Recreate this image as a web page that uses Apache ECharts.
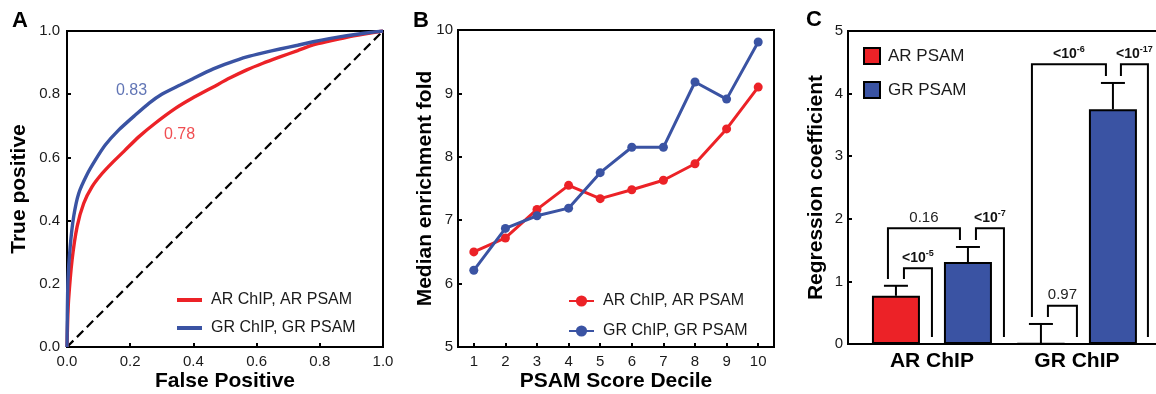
<!DOCTYPE html>
<html><head><meta charset="utf-8">
<script src="https://cdn.jsdelivr.net/npm/echarts@6/dist/echarts.min.js"></script>
<style>html,body{margin:0;padding:0;background:#fff}#c{width:1156px;height:394px}</style>
</head><body><div id="c"></div>
<script>
// ---------- Panel A: ROC curves ----------
const rocArFpr = [0, 0.002, 0.005, 0.016, 0.032, 0.053, 0.079, 0.111, 0.142, 0.184, 0.227, 0.279, 0.343, 0.396, 0.463, 0.515, 0.569, 0.620, 0.674, 0.730, 0.779, 0.830, 0.885, 0.940, 1.0];
const rocArTpr = [0, 0.080, 0.149, 0.275, 0.381, 0.455, 0.507, 0.549, 0.582, 0.623, 0.665, 0.708, 0.755, 0.787, 0.823, 0.851, 0.877, 0.898, 0.918, 0.938, 0.956, 0.968, 0.980, 0.990, 1.0];
const rocGrFpr = [0, 0.001, 0.003, 0.010, 0.021, 0.037, 0.063, 0.090, 0.121, 0.164, 0.216, 0.260, 0.300, 0.358, 0.400, 0.463, 0.515, 0.569, 0.620, 0.674, 0.730, 0.779, 0.830, 0.885, 0.940, 1.0];
const rocGrTpr = [0, 0.100, 0.210, 0.317, 0.412, 0.486, 0.545, 0.592, 0.639, 0.687, 0.734, 0.772, 0.800, 0.829, 0.850, 0.880, 0.900, 0.918, 0.931, 0.943, 0.955, 0.966, 0.976, 0.985, 0.993, 1.0];
const aucAr = '0.78';
const aucGr = '0.83';
const rocSeriesNames = ['AR ChIP, AR PSAM', 'GR ChIP, GR PSAM'];

// ---------- Panel B: median enrichment by decile ----------
const deciles = ['1', '2', '3', '4', '5', '6', '7', '8', '9', '10'];
const enrichAr = [6.50, 6.72, 7.17, 7.55, 7.34, 7.48, 7.63, 7.89, 8.44, 9.10];
const enrichGr = [6.21, 6.87, 7.07, 7.19, 7.75, 8.15, 8.15, 9.18, 8.91, 9.81];

// ---------- Panel C: regression coefficients ----------
const chipCategories = ['AR ChIP', 'GR ChIP'];
const psamNames = ['AR PSAM', 'GR PSAM'];
const coefArPsam = [0.77, 0.01];
const coefGrPsam = [1.31, 3.75];
const errTopArPsam = [0.93, 0.32];
const errTopGrPsam = [1.55, 4.17];
// significance brackets: label (base + optional exponent), group, top level
const sigLabels = ['<10', '0.16', '<10', '0.97', '<10', '<10'];
const sigExps   = ['-5', '', '-7', '', '-6', '-17'];
const sigGroups = [0, 0, 0, 1, 1, 1];
const sigTops   = [1.21, 1.85, 1.85, 0.61, 4.47, 4.47];

// ---------- styling / layout ----------
const RED = '#ec2227', BLUE = '#3a53a3';
const FONT = "'Liberation Sans', Arial, Helvetica, sans-serif";
const BAR_W = 48, BAR_GAP = 24;
const HALF = (BAR_W + BAR_GAP) / 2;
// bracket legs: x = group centre + k*HALF + d (k=±1 -> over a bar)
const legSpec = [
  [[-1, 8], [0, 0]],
  [[-1, -8], [1, -8]],
  [[1, 8], [2, 0]],
  [[-1, 7], [0, 0]],
  [[-1, -9], [1, -7]],
  [[1, 8], [2, -1]]
];

const axisLine = { show: true, onZero: false, lineStyle: { color: '#000', width: 2 } };
const axisTick = { show: true, inside: true, length: 4, lineStyle: { color: '#000', width: 2 } };
const tickLabel = (m, extra) => Object.assign({ fontSize: 15, color: '#1a1a1a', fontFamily: FONT, margin: m }, extra || {});
const axisName = { fontSize: 21, fontWeight: 'bold', color: '#000', fontFamily: FONT };
const letterStyle = { fontSize: 22, fontWeight: 'bold', color: '#000', fontFamily: FONT };

const chart = echarts.init(document.getElementById('c'), null, { renderer: 'canvas' });

function legTop(g, k) {
  if (k === -1) return errTopArPsam[g] + 0.11;
  if (k === 1) return errTopGrPsam[g] + 0.11;
  return 0.11;
}

const option = {
  animation: false,
  backgroundColor: '#fff',
  textStyle: { fontFamily: FONT },
  title: [
    { text: 'A', left: 12, top: 10, padding: 0, textStyle: letterStyle },
    { text: 'B', left: 413, top: 10, padding: 0, textStyle: letterStyle },
    { text: 'C', left: 806, top: 9, padding: 0, textStyle: letterStyle }
  ],
  grid: [
    { left: 67, top: 31, width: 316, height: 316, show: true, borderColor: '#000', borderWidth: 2, backgroundColor: 'transparent', outerBoundsMode: 'none' },
    { left: 458, top: 30, width: 316, height: 317, show: true, borderColor: '#000', borderWidth: 2, backgroundColor: 'transparent', outerBoundsMode: 'none' },
    { left: 848, top: 31, width: 312, height: 313, show: true, borderColor: '#000', borderWidth: 2, backgroundColor: 'transparent', outerBoundsMode: 'none' }
  ],
  legend: [
    { data: rocSeriesNames.map(n => ({ name: n, icon: 'rect' })), orient: 'vertical', left: 177, top: 292, padding: 0, itemWidth: 25, itemHeight: 4, itemGap: 12,
      textStyle: { fontSize: 16, color: '#1a1a1a', fontFamily: FONT, padding: [0, 0, 0, 4], lineHeight: 16 }, selectedMode: false },
    { data: rocSeriesNames.map(n => n + ' '), orient: 'vertical', left: 568, top: 293, padding: 0, itemWidth: 25, itemHeight: 14, itemGap: 14,
      textStyle: { fontSize: 16, color: '#1a1a1a', fontFamily: FONT, padding: [0, 0, 0, 4] }, selectedMode: false },
    { data: psamNames, orient: 'vertical', left: 863, top: 47, padding: 0, itemWidth: 16, itemHeight: 16, itemGap: 16, icon: 'rect',
      textStyle: { fontSize: 17, color: '#1a1a1a', fontFamily: FONT, padding: [0, 0, 0, 3] }, selectedMode: false }
  ],
  xAxis: [
    { gridIndex: 0, type: 'value', min: 0, max: 1, interval: 0.2, axisLine, axisTick, splitLine: { show: false },
      axisLabel: tickLabel(7, { formatter: v => v.toFixed(1) }),
      name: 'False Positive', nameLocation: 'middle', nameGap: 24, nameTextStyle: axisName, nameMoveOverlap: false },
    { gridIndex: 1, type: 'category', data: deciles, boundaryGap: true, axisLine,
      axisTick: Object.assign({ alignWithLabel: true }, axisTick), splitLine: { show: false },
      axisLabel: tickLabel(7, { interval: 0 }),
      name: 'PSAM Score Decile', nameLocation: 'middle', nameGap: 24, nameTextStyle: axisName, nameMoveOverlap: false },
    { gridIndex: 2, type: 'value', min: -0.579, max: 1.573, axisLine, axisTick: { show: false }, splitLine: { show: false },
      axisLabel: { customValues: [0, 1], formatter: v => chipCategories[Math.round(v)], fontSize: 21, fontWeight: 'bold', color: '#000', fontFamily: FONT, margin: 7 } }
  ],
  yAxis: [
    { gridIndex: 0, type: 'value', min: 0, max: 1, interval: 0.2, axisLine, axisTick, splitLine: { show: false },
      axisLabel: tickLabel(7, { formatter: v => v.toFixed(1) }),
      name: 'True positive', nameLocation: 'middle', nameGap: 37, nameTextStyle: axisName, nameMoveOverlap: false },
    { gridIndex: 1, type: 'value', min: 5, max: 10, interval: 1, axisLine, axisTick, splitLine: { show: false },
      axisLabel: tickLabel(5),
      name: 'Median enrichment fold', nameLocation: 'middle', nameGap: 22, nameTextStyle: axisName, nameMoveOverlap: false },
    { gridIndex: 2, type: 'value', min: 0, max: 5, interval: 1, axisLine, axisTick, splitLine: { show: false },
      axisLabel: tickLabel(5),
      name: 'Regression coefficient', nameLocation: 'middle', nameGap: 21, nameTextStyle: axisName, nameMoveOverlap: false }
  ],
  series: [
    // Panel A
    { type: 'line', name: 'diag', xAxisIndex: 0, yAxisIndex: 0, data: [[0, 0], [1, 1]], symbol: 'none', silent: true,
      lineStyle: { color: '#000', width: 2.2, type: [9, 5] }, z: 1 },
    { type: 'line', name: rocSeriesNames[0], xAxisIndex: 0, yAxisIndex: 0, symbol: 'none', smooth: 0.2,
      data: rocArFpr.map((f, i) => [f, rocArTpr[i]]), color: RED, itemStyle: { color: RED }, lineStyle: { color: RED, width: 3.4 }, z: 3 },
    { type: 'line', name: rocSeriesNames[1], xAxisIndex: 0, yAxisIndex: 0, symbol: 'none', smooth: 0.2,
      data: rocGrFpr.map((f, i) => [f, rocGrTpr[i]]), color: BLUE, itemStyle: { color: BLUE }, lineStyle: { color: BLUE, width: 3.4 }, z: 3 },
    { type: 'scatter', name: 'auc', xAxisIndex: 0, yAxisIndex: 0, symbolSize: 0, silent: true,
      data: [{ value: [0.204, 0.81], name: aucGr, label: { color: BLUE } }, { value: [0.356, 0.671], name: aucAr, label: { color: RED } }],
      label: { show: true, position: 'inside', formatter: p => p.name, fontSize: 16, fontFamily: FONT } },
    // Panel B
    { type: 'line', name: rocSeriesNames[0] + ' ', xAxisIndex: 1, yAxisIndex: 1, data: enrichAr, symbol: 'circle', symbolSize: 9,
      color: RED, itemStyle: { color: RED }, lineStyle: { color: RED, width: 3 }, z: 3 },
    { type: 'line', name: rocSeriesNames[1] + ' ', xAxisIndex: 1, yAxisIndex: 1, data: enrichGr, symbol: 'circle', symbolSize: 9,
      color: BLUE, itemStyle: { color: BLUE }, lineStyle: { color: BLUE, width: 3 }, z: 4 },
    // Panel C bars
    { type: 'bar', name: psamNames[0], xAxisIndex: 2, yAxisIndex: 2, barWidth: BAR_W, barGap: '50%',
      data: coefArPsam.map((v, i) => [i, v]), itemStyle: { color: RED, borderColor: '#000', borderWidth: 2 } },
    { type: 'bar', name: psamNames[1], xAxisIndex: 2, yAxisIndex: 2, barWidth: BAR_W, barGap: '50%',
      data: coefGrPsam.map((v, i) => [i, v]), itemStyle: { color: BLUE, borderColor: '#000', borderWidth: 2 } },
    // Panel C error bars
    { type: 'custom', name: 'err', xAxisIndex: 2, yAxisIndex: 2, silent: true, z: 5,
      data: chipCategories.flatMap((c, g) => [[g, coefArPsam[g], errTopArPsam[g], -1], [g, coefGrPsam[g], errTopGrPsam[g], 1]]),
      encode: { x: 0, y: 2 },
      renderItem: (params, api) => {
        const g = api.value(0), k = api.value(3);
        const x = api.coord([g, 0])[0] + k * HALF;
        const y0 = api.coord([g, api.value(1)])[1];
        const y1 = api.coord([g, api.value(2)])[1];
        const st = { stroke: '#000', lineWidth: 2, fill: null };
        return { type: 'group', children: [
          { type: 'line', shape: { x1: x, y1: y0, x2: x, y2: y1 }, style: st },
          { type: 'line', shape: { x1: x - 12, y1: y1, x2: x + 12, y2: y1 }, style: st }
        ] };
      } },
    // Panel C significance brackets
    { type: 'custom', name: 'sig', xAxisIndex: 2, yAxisIndex: 2, silent: true, z: 6, clip: false,
      data: sigGroups.map((g, i) => [g, sigTops[i]]),
      encode: { x: 0, y: 1 },
      renderItem: (params, api) => {
        const i = params.dataIndex;
        const g = api.value(0);
        const cx = api.coord([g, 0])[0];
        const [L, R] = legSpec[i];
        const xl = cx + L[0] * HALF + L[1];
        const xr = cx + R[0] * HALF + R[1];
        const yt = api.coord([g, sigTops[i]])[1];
        const yl = api.coord([g, legTop(g, L[0])])[1];
        const yr = api.coord([g, legTop(g, R[0])])[1];
        const bold = sigExps[i] !== '';
        const txt = bold
          ? { type: 'text', x: (xl + xr) / 2, y: yt - 3, style: { text: '{b|' + sigLabels[i] + '}{s|' + sigExps[i] + '}', align: 'center', verticalAlign: 'bottom',
              rich: { b: { fontSize: 14, fontWeight: 'bold', fontFamily: FONT, fill: '#111', lineHeight: 16, verticalAlign: 'bottom' },
                      s: { fontSize: 9, fontWeight: 'bold', fontFamily: FONT, fill: '#111', lineHeight: 10, verticalAlign: 'top' } } } }
          : { type: 'text', x: (xl + xr) / 2, y: yt - 3, style: { text: sigLabels[i], align: 'center', verticalAlign: 'bottom', fontSize: 15, fontFamily: FONT, fill: '#222' } };
        return { type: 'group', children: [
          { type: 'polyline', shape: { points: [[xl, yl], [xl, yt], [xr, yt], [xr, yr]] }, style: { stroke: '#000', lineWidth: 2, fill: null } },
          txt
        ] };
      } }
  ]
};
chart.setOption(option);
</script>
</body></html>
